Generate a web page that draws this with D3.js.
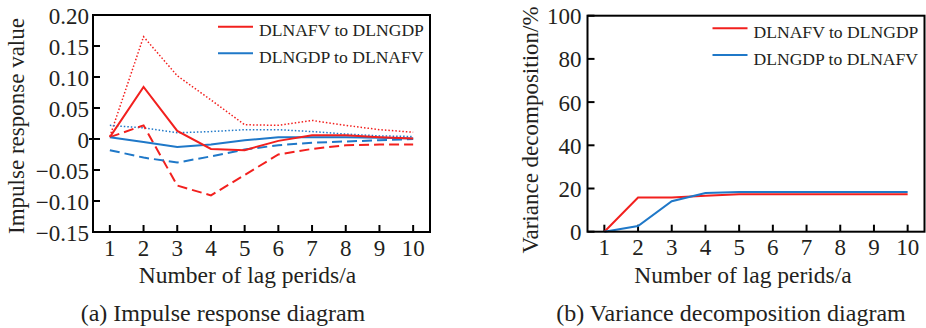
<!DOCTYPE html>
<html><head><meta charset="utf-8">
<script src="https://cdn.jsdelivr.net/npm/d3@7/dist/d3.min.js"></script>
<style>
html,body{margin:0;padding:0;background:#fff;}
svg{display:block;}
</style></head>
<body>
<svg id="c" width="926" height="328"></svg>
<script>
// ---- data ----
const lags = [1,2,3,4,5,6,7,8,9,10];
const seriesNames = ["DLNAFV to DLNGDP", "DLNGDP to DLNAFV"];
// impulse response (a)
const irfRedMid   = [0.003, 0.084, 0.013, -0.016, -0.018, -0.003, 0.006, 0.006, 0.003, 0.001];
const irfRedUpper = [0.004, 0.165, 0.102, 0.063, 0.023, 0.022, 0.030, 0.022, 0.015, 0.011];
const irfRedLower = [0.003, 0.022, -0.075, -0.091, -0.058, -0.025, -0.016, -0.010, -0.009, -0.009];
const irfBlueMid   = [0.003, -0.005, -0.013, -0.009, -0.002, 0.003, 0.003, 0.003, 0.002, 0.001];
const irfBlueUpper = [0.022, 0.018, 0.010, 0.012, 0.015, 0.015, 0.012, 0.008, 0.005, 0.004];
const irfBlueLower = [-0.018, -0.030, -0.038, -0.028, -0.017, -0.010, -0.006, -0.004, -0.002, 0.000];
// variance decomposition (b)
const vdRed  = [0, 15.8, 15.8, 16.6, 17.3, 17.3, 17.3, 17.3, 17.3, 17.3];
const vdBlue = [0, 2.6, 14.1, 17.9, 18.4, 18.4, 18.4, 18.4, 18.4, 18.4];
// tick labels
const irfYTicks = [-0.15, -0.10, -0.05, 0, 0.05, 0.10, 0.15, 0.20];
const vdYTicks = [0, 20, 40, 60, 80, 100];
const irfFmt = v => v === 0 ? "0" : (v < 0 ? "\u2212" : "") + Math.abs(v).toFixed(2);

const FONT = "'Liberation Serif', Tinos, 'Times New Roman', 'DejaVu Serif', serif";
const RED = "#f2201e", BLUE = "#1f78c8";
const svg = d3.select("#c").attr("font-family", FONT);

function txt(g) {
  return g.append("text").attr("font-family", FONT).attr("fill", "#231f20");
}

function panel(o) {
  const g = svg.append("g");
  const x = d3.scaleLinear().domain([0.5, 10.5]).range([o.left, o.right]);
  const y = d3.scaleLinear().domain(o.yDomain).range([o.bottom, o.top]);

  // x ticks (inward)
  lags.forEach(d => {
    g.append("line")
      .attr("x1", x(d)).attr("x2", x(d))
      .attr("y1", o.bottom).attr("y2", o.bottom - 7)
      .attr("stroke", "#000").attr("stroke-width", 2);
    txt(g).attr("x", x(d)).attr("y", o.bottom + 23.5)
      .attr("text-anchor", "middle").attr("font-size", 23).text(d);
  });

  // y ticks
  o.yTicks.forEach(d => {
    g.append("line").attr("x1", o.left).attr("x2", o.left + 7)
      .attr("y1", y(d)).attr("y2", y(d))
      .attr("stroke", "#000").attr("stroke-width", 2);
    txt(g).attr("x", o.left - o.labGap).attr("y", y(d) + 8.5)
      .attr("text-anchor", "end").attr("font-size", 23).text(o.fmt(d));
  });
  if (o.zeroOut) {
    g.append("line").attr("x1", o.left - 4).attr("x2", o.left)
      .attr("y1", y(0)).attr("y2", y(0)).attr("stroke", "#000").attr("stroke-width", 2);
  }

  // series
  const line = d3.line().x((d, i) => x(lags[i])).y(d => y(d));
  o.series.forEach(s => {
    g.append("path").datum(s.values).attr("d", line)
      .attr("fill", "none").attr("stroke", s.color)
      .attr("stroke-width", s.w).attr("stroke-dasharray", s.dash || null);
  });

  // frame
  g.append("rect").attr("x", o.left).attr("y", o.top)
    .attr("width", o.right - o.left).attr("height", o.bottom - o.top)
    .attr("fill", "none").attr("stroke", "#000").attr("stroke-width", 2);

  // legend
  seriesNames.forEach((nm, i) => {
    const ly = o.legY[i];
    g.append("line").attr("x1", o.legX).attr("x2", o.legX + 35)
      .attr("y1", ly).attr("y2", ly)
      .attr("stroke", i === 0 ? RED : BLUE).attr("stroke-width", 2);
    txt(g).attr("x", o.legX + 41).attr("y", ly + 9.5)
      .attr("font-size", 17.6).text(nm);
  });

  // axis titles
  txt(g).attr("x", (o.left + o.right) / 2 + o.xtShift).attr("y", 283)
    .attr("text-anchor", "middle").attr("font-size", 23.5).text("Number of lag perids/a");
  txt(g).attr("transform", `translate(${o.ytX},${o.ytY}) rotate(-90)`)
    .attr("text-anchor", "middle").attr("font-size", 23).text(o.ytitle);
  txt(g).attr("x", o.capX).attr("y", 321)
    .attr("text-anchor", "middle").attr("font-size", 24).text(o.caption);
}

panel({
  left: 93, right: 430, top: 15, bottom: 232,
  yDomain: [-0.15, 0.20], yTicks: irfYTicks, fmt: irfFmt, labGap: 4, zeroOut: true,
  series: [
    {values: irfRedUpper, color: RED, w: 1.5, dash: "1.5,2"},
    {values: irfBlueUpper, color: BLUE, w: 1.5, dash: "1.5,2"},
    {values: irfRedLower, color: RED, w: 2, dash: "10,5"},
    {values: irfBlueLower, color: BLUE, w: 2, dash: "10,5"},
    {values: irfBlueMid, color: BLUE, w: 2},
    {values: irfRedMid, color: RED, w: 2}
  ],
  legX: 218, legY: [26.7, 53.3],
  ytitle: "Impulse response value", ytX: 24, ytY: 126, xtShift: -14,
  caption: "(a) Impulse response diagram", capX: 223
});

panel({
  left: 587.5, right: 924.5, top: 15.7, bottom: 231.7,
  yDomain: [0, 100], yTicks: vdYTicks, fmt: d => d, labGap: 6, zeroOut: false,
  series: [
    {values: vdRed, color: RED, w: 2},
    {values: vdBlue, color: BLUE, w: 2}
  ],
  legX: 712.5, legY: [28.3, 55],
  ytitle: "Variance decomposition/%", ytX: 538, ytY: 130, xtShift: -13,
  caption: "(b) Variance decomposition diagram", capX: 731
});
</script>
</body></html>
